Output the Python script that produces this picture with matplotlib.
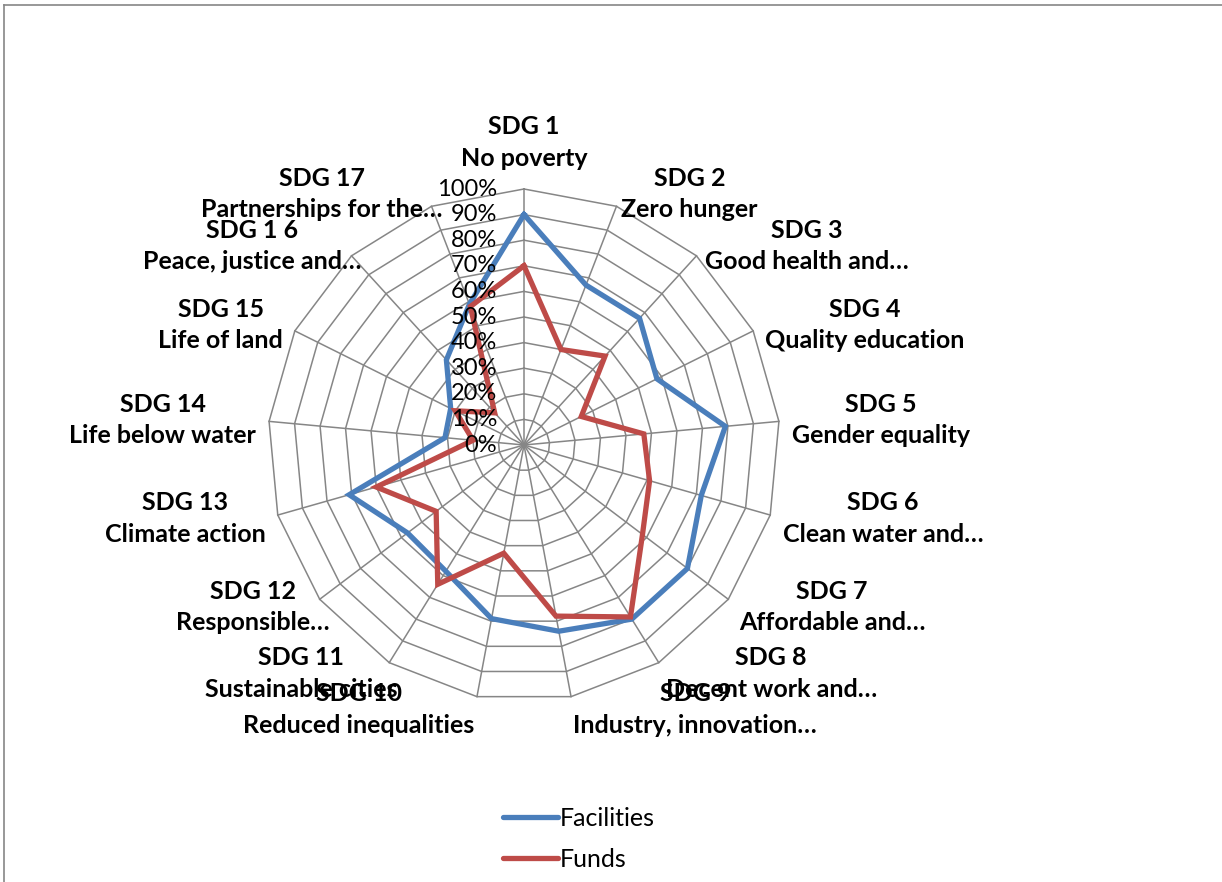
import numpy as np
import matplotlib
matplotlib.use("Agg")
import matplotlib.pyplot as plt
from matplotlib.lines import Line2D

# ---------------- data ----------------
categories = [
    "SDG 1\nNo poverty",
    "SDG 2\nZero hunger",
    "SDG 3\nGood health and…",
    "SDG 4\nQuality education",
    "SDG 5\nGender equality",
    "SDG 6\nClean water and…",
    "SDG 7\nAffordable and…",
    "SDG 8\nDecent work and…",
    "SDG 9\nIndustry, innovation…",
    "SDG 10\nReduced inequalities",
    "SDG 11\nSustainable cities",
    "SDG 12\nResponsible…",
    "SDG 13\nClimate action",
    "SDG 14\nLife below water",
    "SDG 15\nLife of land",
    "SDG 1 6\nPeace, justice and…",
    "SDG 17\nPartnerships for the…",
]
facilities = [90, 67, 67, 58, 79, 72, 80, 80, 74, 69, 58, 57, 71, 31, 32, 45, 59]
funds = [70, 40, 47, 25, 47, 51, 58, 79, 68, 43, 64, 43, 60, 20, 30, 17, 58]
series_names = ["Facilities", "Funds"]
tick_values = [0, 10, 20, 30, 40, 50, 60, 70, 80, 90, 100]
tick_labels = [f"{v}%" for v in tick_values]

# ---------------- style ----------------
W, H = 1222, 882
BLUE = "#4A7EBB"
RED = "#BE4B48"
GRID = "#868686"
FONT = ["Lato", "DejaVu Sans"]
plt.rcParams["font.family"] = FONT

fig = plt.figure(figsize=(W / 100, H / 100), dpi=100)
cx, cy, R = 524, 445, 256
ax = fig.add_axes([(cx - R) / W, (H - cy - R) / H, 2 * R / W, 2 * R / H], projection="polar")
ax.set_theta_zero_location("N")
ax.set_theta_direction(-1)
ax.set_ylim(0, 100)
ax.axis("off")

n = len(categories)
theta = np.arange(n) * 2 * np.pi / n
theta_c = np.append(theta, theta[0])

# polygon grid
for v in tick_values[1:]:
    ax.plot(theta_c, [v] * (n + 1), color=GRID, lw=1.1, zorder=1, clip_on=False)
for t in theta:
    ax.plot([t, t], [0, 100], color=GRID, lw=1.1, zorder=1, clip_on=False)

# series
for vals, col, name in [(facilities, BLUE, series_names[0]), (funds, RED, series_names[1])]:
    ax.plot(theta_c, list(vals) + [vals[0]], color=col, lw=3.8, zorder=3,
            solid_joinstyle="miter", clip_on=False, label=name)

# radial tick labels
for v, lab in zip(tick_values, tick_labels):
    ax.annotate(lab, xy=(0, v), xytext=(-27, 0), textcoords="offset pixels",
                ha="right", va="center", fontsize=17, color="black", zorder=4,
                annotation_clip=False)

# category labels
nudge = {10: 15, 11: 20, 15: 19, 16: 16}
for i, (t, lab) in enumerate(zip(theta, categories)):
    s, c = np.sin(t), np.cos(t)
    if i == 0:
        off = (0, 19)
        ha, va = "center", "bottom"
    else:
        off = (13 * s + nudge.get(i, 0), 13 * c)
        ha = "left" if s > 0 else "right"
        va = "center"
    ax.annotate(lab, xy=(t, 100), xytext=off, textcoords="offset pixels",
                ha=ha, va=va, multialignment="center", fontsize=18,
                fontweight="bold", linespacing=1.45, annotation_clip=False)

# legend
handles = [Line2D([], [], color=BLUE, lw=3.8, solid_capstyle="round"),
           Line2D([], [], color=RED, lw=3.8, solid_capstyle="round")]
fig.legend(handles, series_names, loc="center", bbox_to_anchor=(579 / W, 1 - 839 / H),
           frameon=False, fontsize=18, handlelength=2.2, handletextpad=0.1,
           labelspacing=0.72)

# outer frame (partially visible)
fig.add_artist(Line2D([4 / W, 1.0], [1 - 5 / H, 1 - 5 / H], color=GRID, lw=1.2))
fig.add_artist(Line2D([4 / W, 4 / W], [0, 1 - 5 / H], color=GRID, lw=1.2))

fig.savefig("out.png", dpi=100, facecolor="white")
